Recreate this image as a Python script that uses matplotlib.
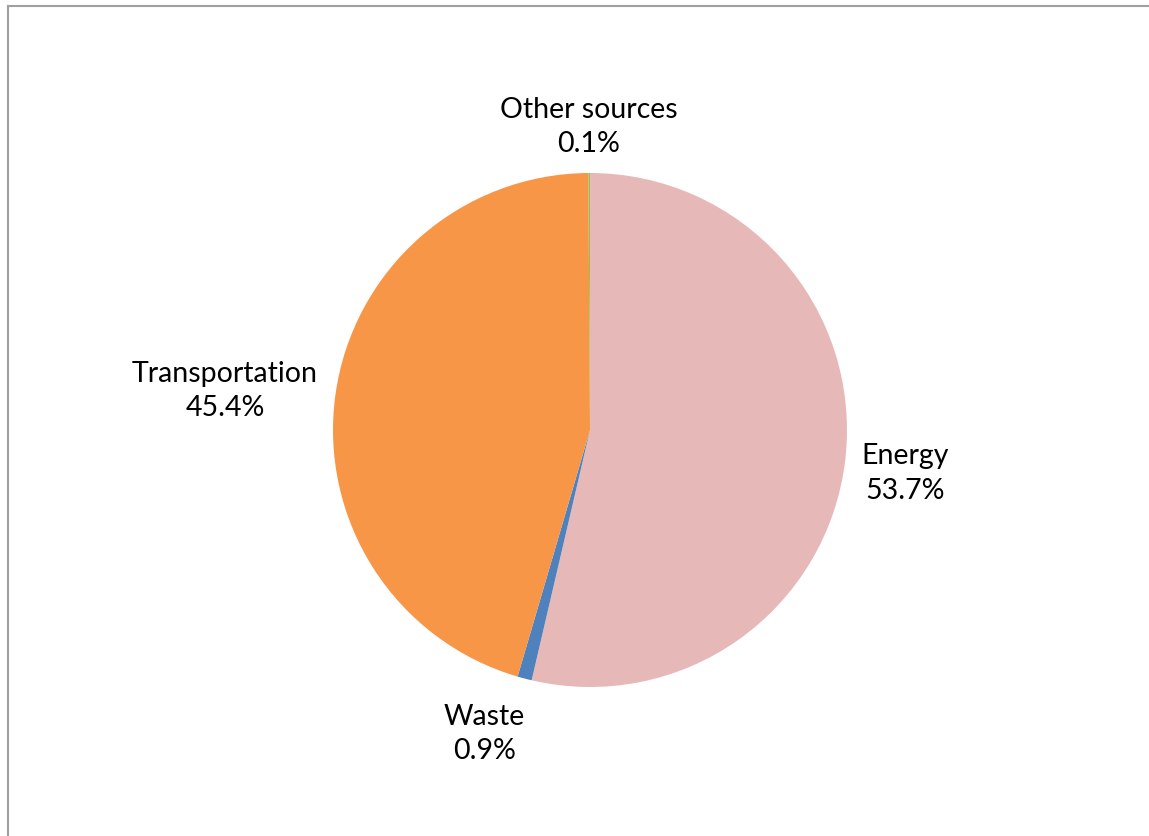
import matplotlib
matplotlib.use("Agg")
import matplotlib.pyplot as plt
from matplotlib.lines import Line2D

categories = ["Energy", "Waste", "Transportation", "Other sources"]
values = [53.7, 0.9, 45.4, 0.1]
colors = ["#E6B9B8", "#4F81BD", "#F79646", "#9BBB59"]
# label positions (data coords, radius units)
label_pos = [(1.226, -0.165), (-0.41, -1.18), (-1.42, 0.155), (-0.006, 1.183)]

W, H = 1149, 837
fig = plt.figure(figsize=(W / 100, H / 100), dpi=100)
fig.patch.set_facecolor("white")

cx, cy, r = 590, 431, 257
ax = fig.add_axes([(cx - r) / W, (H - cy - r) / H, 2 * r / W, 2 * r / H])
ax.pie(values, colors=colors, startangle=90, counterclock=False,
       wedgeprops=dict(linewidth=0))
ax.set_xlim(-1, 1)
ax.set_ylim(-1, 1)
ax.set_aspect("equal")
ax.axis("off")

for cat, v, (x, y) in zip(categories, values, label_pos):
    ax.text(x, y, f"{cat}\n{v:.1f}%", ha="center", va="center",
            fontsize=20.5, family=["Lato", "DejaVu Sans"], linespacing=1.4,
            color="black", clip_on=False)

# frame lines
fig.add_artist(Line2D([7.5 / W, 7.5 / W], [0, 1 - 7 / H], transform=fig.transFigure,
                      color="#A0A0A0", lw=1.5))
fig.add_artist(Line2D([7.5 / W, 1], [1 - 7 / H, 1 - 7 / H], transform=fig.transFigure,
                      color="#A0A0A0", lw=1.5))

fig.savefig("out.png", dpi=100)
